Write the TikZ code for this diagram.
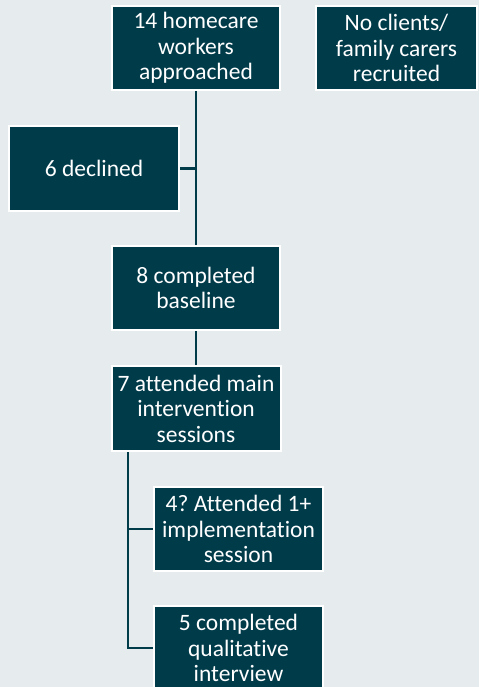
\documentclass[tikz,border=0pt]{standalone}
\usepackage{fontspec}
\setmainfont{Carlito}[Ligatures=NoCommon]
\frenchspacing
\definecolor{teal}{HTML}{003B4A}
\definecolor{bg}{HTML}{E6EBEE}
\begin{document}
\begin{tikzpicture}[x=1pt,y=-1pt,
  flowbox/.style={rectangle, draw=white, line width=2pt, fill=teal,
    text=white, align=center, inner sep=0pt,
    font=\fontsize{23.5}{25.5}\selectfont},
  link/.style={draw=teal, line width=2.5pt}]
\useasboundingbox (0,0) rectangle (479,687);
\clip (0,0) rectangle (479,687);
\fill[bg] (0,0) rectangle (479,687);

\node[flowbox, minimum width=168pt, minimum height=84pt] (appr) at (196,48)
  {14 homecare\\workers\\approached};
\node[flowbox, minimum width=161pt, minimum height=84pt] (none) at (396.5,48)
  {No clients/\\family carers\\recruited};
\node[flowbox, minimum width=170pt, minimum height=85pt] (decl) at (94,168.5)
  {6 declined};
\node[flowbox, minimum width=168pt, minimum height=84pt] (base) at (196,288)
  {8 completed\\baseline};
\node[flowbox, minimum width=169pt, minimum height=85pt] (main) at (196,408.5)
  {7 attended main\\intervention\\sessions};
\node[flowbox, minimum width=169pt, minimum height=84pt] (impl) at (238.5,529)
  {4? Attended 1+\\implementation\\session};
\node[flowbox, minimum width=169pt, minimum height=84pt] (qual) at (238.5,648)
  {5 completed\\qualitative\\interview};

\coordinate (trunk) at (128,452);

% main stem and side branch for declines
\draw[link] (appr.south) -- (base.north);
\draw[link] (decl.east) -- (decl.east -| appr.south);
\draw[link] (base.south) -- (main.north);

% branch from the intervention box down to the follow-up boxes
\draw[link] (trunk |- main.south) |- (qual.west);
\draw[link] (trunk |- impl.west) -- (impl.west);
\end{tikzpicture}
\end{document}
